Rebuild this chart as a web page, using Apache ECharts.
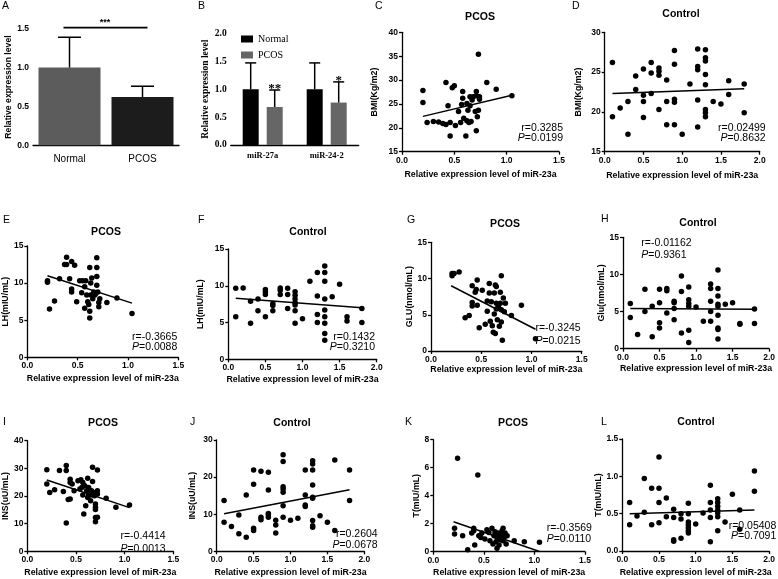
<!DOCTYPE html>
<html>
<head>
<meta charset="utf-8">
<script src="https://cdn.jsdelivr.net/npm/echarts/dist/echarts.min.js"></script>
<style>
  html, body { margin: 0; background: #fff; }
  #main { width: 778px; height: 579px; }
</style>
</head>
<body>
<div id="main"></div>
<script>
//  A: miR-23a 表达
const barCats = ['Normal', 'PCOS'];
const barMeanA = [1.0, 0.62];
const barTopA = [1.39, 0.76];
const sigLevelA = 1.5;

//  B: miR-27a / miR-24-2
const mirCats = ['miR-27a', 'miR-24-2'];
const normalMeanB = [1.0, 1.0];
const normalTopB = [1.47, 1.47];
const pcosMeanB = [0.68, 0.76];
const pcosTopB = [0.985, 1.13];
const sigB = ['**', '*'];

//  C: PCOS BMI
const bmiPcosX = [0.2,0.2,0.24,0.3,0.35,0.39,0.42,0.42,0.44,0.46,0.46,0.48,0.5,0.51,0.54,0.56,0.57,0.58,0.58,0.59,0.61,0.62,0.62,0.63,0.64,0.65,0.65,0.66,0.67,0.68,0.7,0.71,0.71,0.71,0.72,0.73,0.73,0.74,0.74,0.81,0.9,1.05];
const bmiPcosY = [27.8,25.3,21.1,21.3,21.2,20.9,29.5,20.7,24.6,21.1,18.3,28.4,28.8,20.5,23.4,21.1,24.9,27.6,26.2,22.0,18.3,21.5,25.1,23.7,21.1,24.6,26.5,21.3,25.8,26.5,23.4,27.6,26.7,19.4,22.3,23.7,35.4,26.5,26.0,29.5,28.1,26.7];
const bmiPcosFit = [[0.2, 22.4], [1.05, 26.8]];

//  D: Control BMI
const bmiCtrlX = [0.1,0.1,0.2,0.3,0.3,0.4,0.4,0.5,0.5,0.5,0.5,0.6,0.6,0.6,0.7,0.7,0.7,0.7,0.8,0.8,0.8,0.9,0.9,0.9,0.9,0.9,1.0,1.1,1.2,1.2,1.2,1.2,1.2,1.3,1.3,1.3,1.3,1.3,1.3,1.3,1.3,1.4,1.5,1.6,1.6,1.8,1.8];
const bmiCtrlY = [26.2,19.4,20.5,21.3,17.2,22.8,24.5,25.4,22.1,21.3,19.3,26.2,24.9,22.3,25.5,25.1,24.6,20.3,24.0,21.3,18.4,27.7,26.0,21.6,21.2,18.4,17.2,23.5,27.9,25.7,25.3,21.5,18.1,27.8,26.8,26.4,24.7,23.4,20.3,19.9,19.4,21.3,21.0,23.9,22.2,23.5,19.9];
const bmiCtrlFit = [[0.1, 22.3], [1.8, 22.9]];

//  E: PCOS LH
const lhPcosX = [0.2,0.2,0.22,0.27,0.32,0.37,0.39,0.39,0.42,0.44,0.44,0.44,0.47,0.49,0.52,0.54,0.55,0.57,0.57,0.58,0.59,0.6,0.61,0.62,0.62,0.62,0.63,0.63,0.64,0.65,0.66,0.67,0.68,0.69,0.69,0.69,0.69,0.7,0.71,0.71,0.72,0.79,0.89,1.04];
const lhPcosY = [10.3,10.1,6.5,7.6,10.6,12.5,12.5,13.5,10.6,9.2,8.8,12.9,12.4,7.5,10.3,8.7,10.3,9.5,6.6,10.3,8.4,7.5,7.1,6.2,5.3,12.1,8.4,10.0,10.7,7.9,8.8,8.4,8.6,13.4,12.1,10.9,9.7,8.8,7.4,6.8,7.9,7.4,8.0,5.9];
const lhPcosFit = [[0.2, 11.0], [1.04, 7.3]];

//  F: Control LH
const lhCtrlX = [0.1,0.1,0.2,0.3,0.3,0.4,0.4,0.5,0.5,0.5,0.5,0.6,0.6,0.6,0.7,0.7,0.7,0.8,0.8,0.8,0.9,0.9,0.9,0.9,0.9,0.9,0.9,1.0,1.1,1.2,1.2,1.2,1.2,1.3,1.3,1.3,1.3,1.3,1.3,1.3,1.3,1.3,1.4,1.5,1.6,1.6,1.8,1.8];
const lhCtrlY = [9.65,5.8,9.7,7.9,4.9,8.2,6.6,9.5,9.2,8.8,5.8,7.6,7.3,6.6,9.7,9.4,8.8,9.65,8.8,6.9,9.2,8.7,8.2,7.7,7.4,6.6,4.9,5.5,10.6,11.8,8.6,6.1,5.0,12.7,11.8,10.6,8.2,6.7,5.8,4.9,3.5,2.6,8.5,10.2,5.8,5.2,6.9,5.0];
const lhCtrlFit = [[0.1, 8.3], [1.8, 7.0]];

//  G: PCOS GLU
const gluPcosX = [0.21,0.21,0.23,0.28,0.34,0.38,0.41,0.41,0.41,0.44,0.45,0.46,0.46,0.48,0.51,0.54,0.56,0.56,0.58,0.58,0.59,0.6,0.61,0.62,0.63,0.63,0.64,0.64,0.65,0.65,0.65,0.66,0.67,0.68,0.69,0.69,0.7,0.7,0.7,0.71,0.72,0.73,0.74,0.8,0.9,1.04];
const gluPcosY = [10.4,10.7,10.7,10.9,4.6,4.9,9.0,6.7,6.2,8.1,8.5,9.8,6.3,3.2,8.4,3.7,6.9,5.5,9.3,8.0,4.1,6.8,3.5,2.6,5.1,8.0,9.1,2.4,5.8,8.9,6.6,4.3,6.1,3.4,8.1,6.6,10.4,5.7,4.0,1.5,7.3,5.4,6.6,4.9,6.3,1.7];
const gluPcosFit = [[0.2, 9.0], [1.04, 3.0]];

//  H: Control Glu
const gluCtrlX = [0.1,0.1,0.2,0.3,0.3,0.4,0.4,0.5,0.5,0.5,0.5,0.6,0.6,0.6,0.7,0.7,0.7,0.7,0.8,0.8,0.8,0.9,0.9,0.9,0.9,0.9,0.9,1.0,1.1,1.2,1.2,1.2,1.2,1.2,1.3,1.3,1.3,1.3,1.3,1.3,1.3,1.3,1.3,1.4,1.5,1.6,1.6,1.8,1.8];
const gluCtrlY = [6.1,4.2,1.9,8.0,5.0,5.7,1.6,8.0,6.2,3.5,2.8,8.1,7.8,4.8,6.4,6.2,5.4,3.9,9.8,7.7,2.1,8.3,6.6,6.1,5.7,2.5,0.85,5.6,3.7,8.7,8.1,6.4,5.0,3.7,10.6,8.1,7.1,6.0,5.7,4.5,2.8,2.6,1.3,6.0,6.2,3.4,3.3,5.35,3.4];
const gluCtrlFit = [[0.1, 5.4], [1.8, 5.3]];

//  I: PCOS INS
const insPcosX = [0.2,0.2,0.23,0.28,0.33,0.37,0.4,0.4,0.4,0.42,0.44,0.44,0.44,0.46,0.48,0.52,0.54,0.55,0.56,0.57,0.57,0.58,0.59,0.6,0.61,0.62,0.62,0.63,0.63,0.64,0.65,0.66,0.66,0.67,0.67,0.68,0.69,0.7,0.7,0.7,0.7,0.7,0.72,0.72,0.72,0.72,0.81,0.91,1.05];
const insPcosY = [29.5,24.3,21.3,22.3,29.2,21.6,29.2,31.0,10.2,18.7,18.9,26.1,24.9,24.3,21.9,25.5,22.5,25.9,23.1,24.9,20.4,13.5,23.7,16.5,21.9,19.5,26.4,23.1,20.4,21.3,18.3,21.9,20.4,30.4,25.2,21.3,20.1,17.1,15.9,15.1,10.7,12.2,12.3,29.4,20.7,21.9,19.2,15.9,16.7];
const insPcosFit = [[0.2, 25.8], [1.05, 15.8]];

//  J: Control INS
const insCtrlX = [0.1,0.1,0.2,0.3,0.3,0.4,0.4,0.5,0.5,0.5,0.5,0.6,0.6,0.6,0.7,0.7,0.7,0.7,0.7,0.8,0.8,0.8,0.9,0.9,0.9,0.9,0.9,0.9,0.9,1.0,1.1,1.2,1.2,1.2,1.2,1.3,1.3,1.3,1.3,1.3,1.3,1.3,1.3,1.3,1.4,1.5,1.6,1.6,1.8,1.8];
const insCtrlY = [13.7,7.8,6.7,9.8,4.7,15.2,3.8,21.9,18.1,6.2,5.6,21.6,9.2,8.5,21.3,16.5,10.2,9.8,9.2,8.4,7.1,4.9,26.0,24.2,17.4,16.8,15.9,12.3,9.2,8.4,8.9,21.9,15.2,12.5,12.1,24.4,23.5,21.9,17.9,14.6,14.3,8.3,6.9,6.5,9.6,7.8,24.6,5.6,21.9,13.7];
const insCtrlFit = [[0.1, 10.1], [1.8, 16.6]];

//  K: PCOS T
const tPcosX = [0.21,0.21,0.24,0.29,0.34,0.38,0.4,0.4,0.41,0.44,0.45,0.47,0.48,0.51,0.53,0.55,0.56,0.58,0.59,0.6,0.61,0.62,0.63,0.63,0.64,0.65,0.66,0.67,0.68,0.69,0.69,0.7,0.71,0.72,0.73,0.8,0.9,1.05];
const tPcosY = [1.67,1.26,6.67,1.14,0.14,1.33,1.67,1.5,0.48,5.48,1.14,1.02,1.33,0.9,1.57,1.38,0.79,1.67,0.55,1.14,1.43,0.71,0.24,1.02,1.33,0.48,0.86,1.19,1.5,1.67,0.79,1.02,1.33,0.55,1.14,0.79,0.71,0.67];
const tPcosFit = [[0.2, 2.14], [1.05, 0.02]];

//  L: Control T
const tCtrlX = [0.1,0.1,0.2,0.3,0.3,0.4,0.4,0.5,0.5,0.5,0.5,0.6,0.6,0.7,0.7,0.7,0.7,0.8,0.8,0.8,0.9,0.9,0.9,0.9,0.9,0.9,0.9,1.0,1.1,1.2,1.2,1.2,1.2,1.2,1.3,1.3,1.3,1.3,1.3,1.3,1.3,1.4,1.5,1.6,1.6,1.8,1.8];
const tCtrlY = [0.65,0.35,0.47,0.97,0.52,0.84,0.35,1.26,0.84,0.65,0.38,0.71,0.46,0.56,0.45,0.15,0.13,0.5,0.43,0.17,0.64,0.5,0.39,0.35,0.31,0.27,0.24,0.36,0.51,0.88,0.65,0.55,0.45,0.125,0.7,0.65,0.6,0.55,0.51,0.46,0.27,0.39,0.76,0.55,0.29,1.07,0.8];
const tCtrlFit = [[0.1, 0.5], [1.8, 0.55]];

//  相关系数 / P 值 (C..L)
const statR = ['0.3285', '0.02499', '-0.3665', '0.1432', '-0.3245', '-0.01162', '-0.4414', '0.2604', '-0.3569', '0.05408'];
const statP = ['0.0199', '0.8632', '0.0088', '0.3210', '0.0215', '0.9361', '0.0013', '0.0678', '0.0110', '0.7091'];

const SANS = 'Liberation Sans';
const SERIF = 'Liberation Serif';
const INK = '#000';
const TICK = 8.5;

//  散点面板布局
const panels = [
    {xs: bmiPcosX, ys: bmiPcosY, fit: bmiPcosFit, box: [402, 32.3, 157, 119.4], xMax: 1.5, y: [15, 40, 5], yName: 'BMI(Kg/m2)', yGap: 22.5, xGap: 18, title: 'PCOS', tPos: [480, 16.7], letter: ['C', 375, 6], stat: [563, 127.7, 138.3, 'right']},
    {xs: bmiCtrlX, ys: bmiCtrlY, fit: bmiCtrlFit, box: [604.7, 32.3, 155, 119.4], xMax: 2, y: [15, 30, 5], yName: 'BMI(Kg/m2)', yGap: 22, xGap: 19, title: 'Control', tPos: [681, 14.3], letter: ['D', 572, 6], stat: [765.7, 127.7, 137.7, 'right']},
    {xs: lhPcosX, ys: lhPcosY, fit: lhPcosFit, box: [26.7, 246, 151.6, 111.3], xMax: 1.5, y: [0, 15, 5], yName: 'LH(mIU/mL)', yGap: 15.5, xGap: 17, title: 'PCOS', tPos: [106, 231.7], letter: ['E', 3, 220], stat: [177.3, 336.7, 346.7, 'right']},
    {xs: lhCtrlX, ys: lhCtrlY, fit: lhCtrlFit, box: [228.3, 249, 148.4, 110.3], xMax: 2, y: [0, 15, 5], yName: 'LH(mIU/mL)', yGap: 23.5, xGap: 15.5, title: 'Control', tPos: [308, 231.7], letter: ['F', 198, 220], stat: [375, 336.7, 347.3, 'right']},
    {xs: gluPcosX, ys: gluPcosY, fit: gluPcosFit, box: [431, 242.3, 150.7, 108.7], xMax: 1.5, y: [0, 15, 5], yName: 'GLU(nmol/mL)', yGap: 15, xGap: 14, title: 'PCOS', tPos: [505, 224.3], letter: ['G', 407, 220], stat: [580.7, 327.7, 340.7, 'right']},
    {xs: gluCtrlX, ys: gluCtrlY, fit: gluCtrlFit, box: [623, 237.3, 149, 111.4], xMax: 2, y: [0, 15, 5], yName: 'Glu(nmol/mL)', yGap: 14, xGap: 15, title: 'Control', tPos: [698, 223.3], letter: ['H', 601, 219], stat: [641.3, 242.7, 255, 'left']},
    {xs: insPcosX, ys: insPcosY, fit: insPcosFit, box: [25, 440.7, 148.3, 110.6], xMax: 1.5, y: [0, 40, 10], yName: 'INS(uU/mL)', yGap: 14.5, xGap: 16.5, title: 'PCOS', tPos: [103, 423.3], letter: ['I', 3, 422], stat: [165.7, 535.7, 549, 'right']},
    {xs: insCtrlX, ys: insCtrlY, fit: insCtrlFit, box: [216.7, 440, 147.6, 111.3], xMax: 2, y: [0, 30, 10], yName: 'INS(uU/mL)', yGap: 19.5, xGap: 16.5, title: 'Control', tPos: [292, 423.3], letter: ['J', 190, 422], stat: [377.7, 534, 545, 'right']},
    {xs: tPcosX, ys: tPcosY, fit: tPcosFit, box: [433.3, 439.7, 151.7, 112], xMax: 1.5, y: [0, 8, 2], yName: 'T(mIU/mL)', yGap: 11, xGap: 16, title: 'PCOS', tPos: [513, 423], letter: ['K', 405, 422], stat: [546.7, 528.3, 539, 'left']},
    {xs: tCtrlX, ys: tCtrlY, fit: tCtrlFit, box: [622.3, 439, 147.4, 112], xMax: 2, y: [0, 1.5, 0.5], yName: 'T(mIU/mL)', yGap: 11, xGap: 17, title: 'Control', tPos: [696, 422.3], letter: ['L', 601, 422], stat: [776.3, 525.7, 535.7, 'right']},
];

function axisCommon(font, size, margin) {
    return {
        axisLine: {onZero: false, lineStyle: {color: INK, width: 1.3}},
        axisTick: {length: 3, lineStyle: {color: INK, width: 1.3}},
        splitLine: {show: false},
        axisLabel: {
            color: INK, fontFamily: font, fontWeight: 'bold', fontSize: size, margin: margin,
            showMinLabel: true, showMaxLabel: true,
        },
    };
}

function nameStyle(font, size) {
    return {color: INK, fontFamily: font, fontWeight: 'bold', fontSize: size};
}

const grids = [
    {left: 33, top: 28.7, width: 146, height: 116.6},
    {left: 230.7, top: 33.3, width: 128, height: 111.7},
];
const xAxes = [];
const yAxes = [];
const series = [];
const graphics = [];

//  A 柱状图
const a = axisCommon(SANS, TICK, 4);
xAxes.push(Object.assign({}, a, {
    type: 'category', gridIndex: 0, data: barCats,
    axisTick: {show: false},
    axisLabel: {color: INK, fontFamily: SANS, fontSize: 10, margin: 9},
}));
yAxes.push(Object.assign({}, a, {
    type: 'value', gridIndex: 0, min: 0, max: 1.5, interval: 0.5,
    axisLabel: Object.assign({}, a.axisLabel, {formatter: v => v.toFixed(1)}),
    name: 'Relative expression level', nameLocation: 'middle', nameGap: 15,
    nameTextStyle: nameStyle(SANS, 8.7),
}));
const barColorsA = ['#5c5c5c', '#1c1c1c'];
series.push({
    name: 'expr', type: 'bar', xAxisIndex: 0, yAxisIndex: 0, barWidth: 62,
    data: barMeanA.map((v, i) => ({value: v, itemStyle: {color: barColorsA[i]}})),
});

function errorBars(gi, means, tops, offset, capW) {
    return {
        type: 'custom', xAxisIndex: gi, yAxisIndex: gi, silent: true, z: 5,
        data: means.map((m, i) => [i, m, tops[i]]),
        renderItem: function (params, api) {
            const b = api.coord([api.value(0), api.value(1)]);
            const t = api.coord([api.value(0), api.value(2)]);
            const x = b[0] + offset;
            const st = {stroke: INK, lineWidth: 1.5};
            return {
                type: 'group', children: [
                    {type: 'line', shape: {x1: x, y1: b[1], x2: x, y2: t[1]}, style: st},
                    {type: 'line', shape: {x1: x - capW / 2, y1: t[1], x2: x + capW / 2, y2: t[1]}, style: st},
                ]
            };
        }
    };
}
series.push(errorBars(0, barMeanA, barTopA, 0, 23));
//  显著性横线
series.push({
    type: 'custom', xAxisIndex: 0, yAxisIndex: 0, silent: true, z: 6,
    data: [[0, sigLevelA]],
    renderItem: function (params, api) {
        const p0 = api.coord([0, api.value(1)]);
        const p1 = api.coord([1, api.value(1)]);
        return {
            type: 'group', children: [
                {type: 'line', shape: {x1: p0[0] - 6, y1: p0[1] - 1, x2: p1[0] + 5, y2: p1[1] - 1}, style: {stroke: INK, lineWidth: 1.8}},
                {type: 'text', x: (p0[0] + p1[0]) / 2 - 1, y: p0[1] - 2, style: {text: '***', fill: INK, font: 'bold 9px ' + SANS, align: 'center', verticalAlign: 'bottom'}},
            ]
        };
    }
});

//  B 柱状图
const b = axisCommon(SERIF, 9.5, 4);
xAxes.push(Object.assign({}, b, {
    type: 'category', gridIndex: 1, data: mirCats,
    axisTick: {alignWithLabel: true, length: 3, lineStyle: {color: INK, width: 1.3}},
    axisLabel: {color: INK, fontFamily: SERIF, fontWeight: 'bold', fontSize: 8.5, margin: 6},
}));
yAxes.push(Object.assign({}, b, {
    type: 'value', gridIndex: 1, min: 0, max: 2, interval: 0.5,
    axisLabel: Object.assign({}, b.axisLabel, {formatter: v => v.toFixed(1)}),
    name: 'Relative expression level', nameLocation: 'middle', nameGap: 17,
    nameTextStyle: nameStyle(SERIF, 9.5),
}));
series.push(
    {name: 'Normal', type: 'bar', xAxisIndex: 1, yAxisIndex: 1, barWidth: 16, barGap: '50%', itemStyle: {color: '#000'}, data: normalMeanB},
    {name: 'PCOS', type: 'bar', xAxisIndex: 1, yAxisIndex: 1, barWidth: 16, barGap: '50%', itemStyle: {color: '#666'}, data: pcosMeanB},
);
series.push(errorBars(1, normalMeanB, normalTopB, -12, 11));
series.push(errorBars(1, pcosMeanB, pcosTopB, 12, 11));
series.push({
    type: 'custom', xAxisIndex: 1, yAxisIndex: 1, silent: true, z: 6,
    data: pcosTopB.map((t, i) => [i, t]),
    renderItem: function (params, api) {
        const p = api.coord([api.value(0), api.value(1)]);
        return {type: 'text', x: p[0] + 12, y: p[1] + 5, style: {text: sigB[params.dataIndex], fill: INK, font: 'bold 13px ' + SERIF, align: 'center', verticalAlign: 'bottom'}};
    }
});

//  散点面板
panels.forEach(function (p, k) {
    const gi = k + 2;
    grids.push({left: p.box[0], top: p.box[1], width: p.box[2], height: p.box[3]});
    const c = axisCommon(SANS, TICK, 4);
    xAxes.push(Object.assign({}, c, {
        type: 'value', gridIndex: gi, min: 0, max: p.xMax, interval: 0.5,
        axisLabel: Object.assign({}, c.axisLabel, {formatter: v => v.toFixed(1)}),
        name: 'Relative expression level of miR-23a', nameLocation: 'middle', nameGap: p.xGap,
        nameTextStyle: nameStyle(SANS, 8.8),
    }));
    yAxes.push(Object.assign({}, c, {
        type: 'value', gridIndex: gi, min: p.y[0], max: p.y[1], interval: p.y[2],
        axisLabel: Object.assign({}, c.axisLabel, {formatter: v => p.y[2] < 1 ? v.toFixed(1) : String(v)}),
        name: p.yName, nameLocation: 'middle', nameGap: p.yGap,
        nameTextStyle: nameStyle(SANS, 8.8),
    }));
    series.push({
        type: 'scatter', xAxisIndex: gi, yAxisIndex: gi, symbolSize: 5.5,
        itemStyle: {color: INK, opacity: 1},
        data: p.xs.map((x, i) => [x, p.ys[i]]),
    });
    series.push({
        type: 'line', xAxisIndex: gi, yAxisIndex: gi, symbol: 'none', silent: true,
        lineStyle: {color: INK, width: 1.5},
        data: p.fit,
    });
    graphics.push({type: 'text', x: p.tPos[0], y: p.tPos[1], style: {text: p.title, fill: INK, font: 'bold 10.5px ' + SANS, align: 'center', verticalAlign: 'middle'}});
    graphics.push({type: 'text', x: p.letter[1], y: p.letter[2], style: {text: p.letter[0], fill: INK, font: '10.5px ' + SANS, align: 'left', verticalAlign: 'middle'}});
    graphics.push({type: 'text', x: p.stat[0], y: p.stat[1], style: {text: 'r=' + statR[k], fill: INK, font: '10.5px ' + SANS, align: p.stat[3], verticalAlign: 'middle'}});
    graphics.push({type: 'text', x: p.stat[0], y: p.stat[2], style: {
        text: '{i|P}=' + statP[k], fill: INK, font: '10.5px ' + SANS, align: p.stat[3], verticalAlign: 'middle',
        rich: {i: {fontStyle: 'italic', fontFamily: SANS, fontSize: 10.5, fill: INK}},
    }});
});

graphics.push({type: 'text', x: 2, y: 6, style: {text: 'A', fill: INK, font: '10.5px ' + SANS, align: 'left', verticalAlign: 'middle'}});
graphics.push({type: 'text', x: 198, y: 6, style: {text: 'B', fill: INK, font: '10.5px ' + SANS, align: 'left', verticalAlign: 'middle'}});

const myChart = echarts.init(document.getElementById('main'), null, {renderer: 'canvas'});
myChart.setOption({
    animation: false,
    backgroundColor: '#fff',
    legend: {
        data: ['Normal', 'PCOS'], orient: 'vertical', left: 236, top: 29,
        itemWidth: 12, itemHeight: 7, itemGap: 6, icon: 'rect', selectedMode: false,
        textStyle: {fontFamily: SERIF, fontSize: 10, color: INK},
    },
    grid: grids,
    xAxis: xAxes,
    yAxis: yAxes,
    series: series,
    graphic: graphics,
});
</script>
</body>
</html>
